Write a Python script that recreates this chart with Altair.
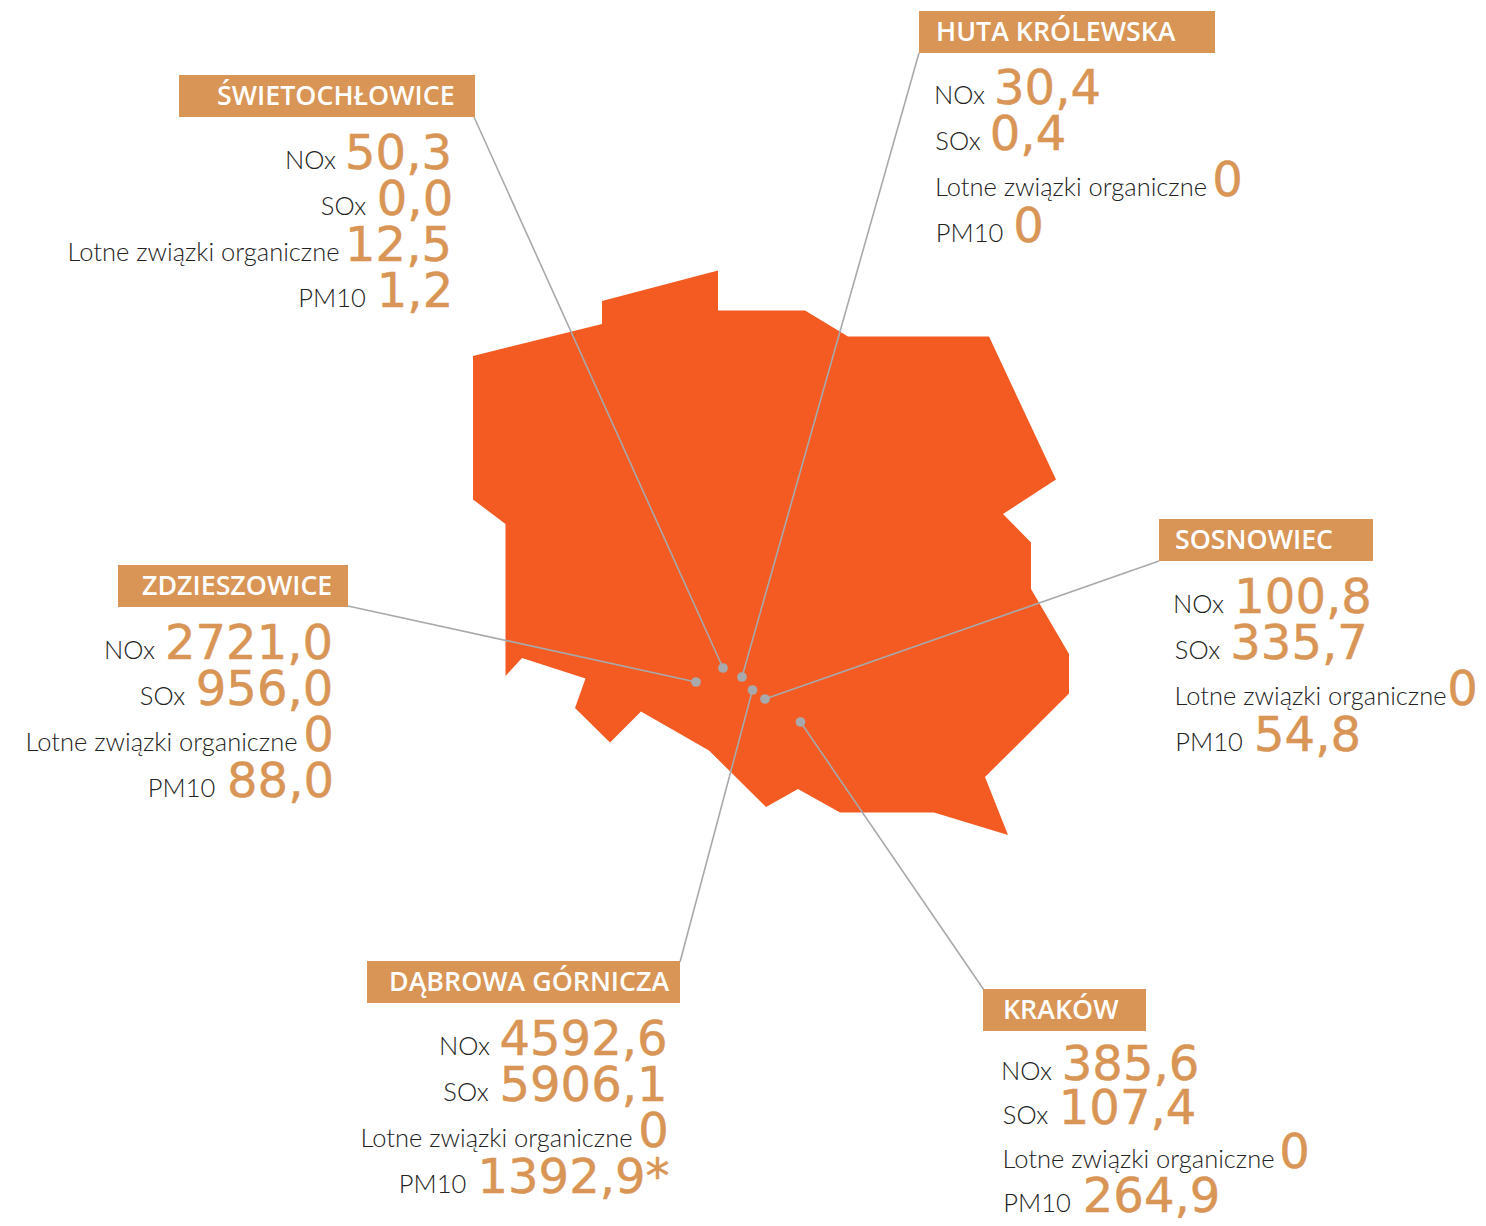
import altair as alt
import pandas as pd

# Picture coordinates of the map outline
map_x = [473, 602, 602, 718, 718, 805, 848, 989, 1056, 1003, 1031, 1031, 1069, 1069, 985, 1008,
         934, 840, 798, 766, 709, 641, 610, 575, 585.5, 522, 505.5, 505.5, 473]
map_y = [356, 324, 301, 270.5, 310.5, 310.5, 336.5, 336.5, 479.5, 514, 542.5, 589, 654, 693.5, 777, 835,
         812.5, 812.5, 789, 807, 750.5, 711.5, 742.5, 708, 678.5, 658, 676, 524, 499.5]

cities = ["ŚWIETOCHŁOWICE", "HUTA KRÓLEWSKA", "SOSNOWIEC", "ZDZIESZOWICE", "DĄBROWA GÓRNICZA", "KRAKÓW"]
box_x0 = [179, 919, 1159, 118, 367, 983]
box_x1 = [475, 1215, 1373, 348, 680, 1146]
box_y0 = [75, 11, 519, 565, 961, 989]
box_y1 = [117, 53, 561, 607, 1003, 1031]
head_x = [217, 936, 1175, 142, 389, 1003]
head_y = [105, 41, 549, 595, 991, 1019]

line_x0 = [474, 919, 1159, 348, 680, 984]
line_y0 = [117, 53, 561, 606, 962, 990]
dot_x = [723, 742, 765, 696, 752.5, 800.5]
dot_y = [668, 677, 699, 682, 690, 722]

measures = ["NOx", "SOx", "Lotne związki organiczne", "PM10"]
values = [
    ["50,3", "0,0", "12,5", "1,2"],
    ["30,4", "0,4", "0", "0"],
    ["100,8", "335,7", "0", "54,8"],
    ["2721,0", "956,0", "0", "88,0"],
    ["4592,6", "5906,1", "0", "1392,9*"],
    ["385,6", "107,4", "0", "264,9"],
]
# measured left and right edges of each label and value
label_x = [
    [(287, 334), (321, 366), (68, 339), (298, 366)],
    [(936, 983), (936, 980), (936, 1206), (936, 1003)],
    [(1175, 1222), (1175, 1220), (1175, 1446), (1175, 1243)],
    [(106, 153), (140, 185), (26, 297), (147, 216)],
    [(441, 488), (444, 488), (361, 632), (398, 467)],
    [(1003, 1050), (1003, 1048), (1003, 1274), (1003, 1071)],
]
value_x = [
    [(347, 450), (378, 452), (347, 450), (380, 450)],
    [(995, 1100), (991, 1065), (1213, 1242), (1014, 1043)],
    [(1236, 1370), (1232, 1366), (1448, 1477), (1255, 1360)],
    [(165, 333), (196, 333), (304, 333), (228, 333)],
    [(500, 667), (500, 667), (639, 668), (480, 667)],
    [(1063, 1198), (1060, 1195), (1280, 1309), (1084, 1219)],
]
first_row_y = [169, 104, 613, 659, 1055, 1080]
row_step = [46, 46, 46, 46, 46, 44]

ORANGE = "#f35b22"
TAN = "#d89555"
GREY = "#a7a9ac"
INK = "#222222"

X = dict(scale=alt.Scale(domain=[8, 1478], nice=False, zero=False), axis=None)
Y = dict(scale=alt.Scale(domain=[1218, 8], nice=False, zero=False), axis=None)


def x(f):
    return alt.X(f, type="quantitative", **X)


def y(f):
    return alt.Y(f, type="quantitative", **Y)


map_df = pd.DataFrame({"x": map_x, "y": map_y, "i": range(len(map_x))})
boxes = pd.DataFrame({"city": cities, "x0": box_x0, "x1": box_x1, "y0": box_y0, "y1": box_y1,
                      "hx": head_x, "hy": head_y, "lx": line_x0, "ly": line_y0,
                      "dx": dot_x, "dy": dot_y})
rows = []
for c, city in enumerate(cities):
    for m, measure in enumerate(measures):
        rows.append({
            "city": city, "measure": measure, "value": values[c][m],
            "lx": sum(label_x[c][m]) / 2, "vx": sum(value_x[c][m]) / 2,
            "y": first_row_y[c] + m * row_step[c],
        })
rows = pd.DataFrame(rows)

poly = alt.Chart(map_df).mark_line(fill=ORANGE, stroke=ORANGE, strokeWidth=0, interpolate="linear-closed").encode(
    x=x("x"), y=y("y"), order=alt.Order("i:Q"))
leaders = alt.Chart(boxes).mark_rule(color=GREY, strokeWidth=1.6).encode(
    x=x("lx"), y=y("ly"), x2="dx", y2="dy")
dots = alt.Chart(boxes).mark_circle(color=GREY, opacity=1, size=95).encode(x=x("dx"), y=y("dy"))
rects = alt.Chart(boxes).mark_rect(color=TAN).encode(x=x("x0"), x2="x1", y=y("y0"), y2="y1")
heads = alt.Chart(boxes).mark_text(align="left", baseline="alphabetic", color="white", font="Open Sans",
                                   fontSize=26.8, fontWeight=600).encode(
    x=x("hx"), y=y("hy"), text="city")
labels = alt.Chart(rows).mark_text(align="center", baseline="alphabetic", color=INK, font="Lato", fontSize=25.5,
                                   fontWeight=300).encode(
    x=x("lx"), y=y("y"), text="measure")
vals = alt.Chart(rows).mark_text(align="center", baseline="alphabetic", color=TAN, stroke=TAN, strokeWidth=0.5,
                                 font="DejaVu Sans", fontSize=48).encode(
    x=x("vx"), y=y("y"), text="value")

chart = alt.layer(poly, leaders, dots, rects, heads, labels, vals).properties(
    width=1470, height=1210, padding=0, autosize=alt.AutoSizeParams(type="none"), background="white"
).configure_view(stroke=None)
chart.save("out.html", embed_options={"renderer": "svg", "actions": False})
